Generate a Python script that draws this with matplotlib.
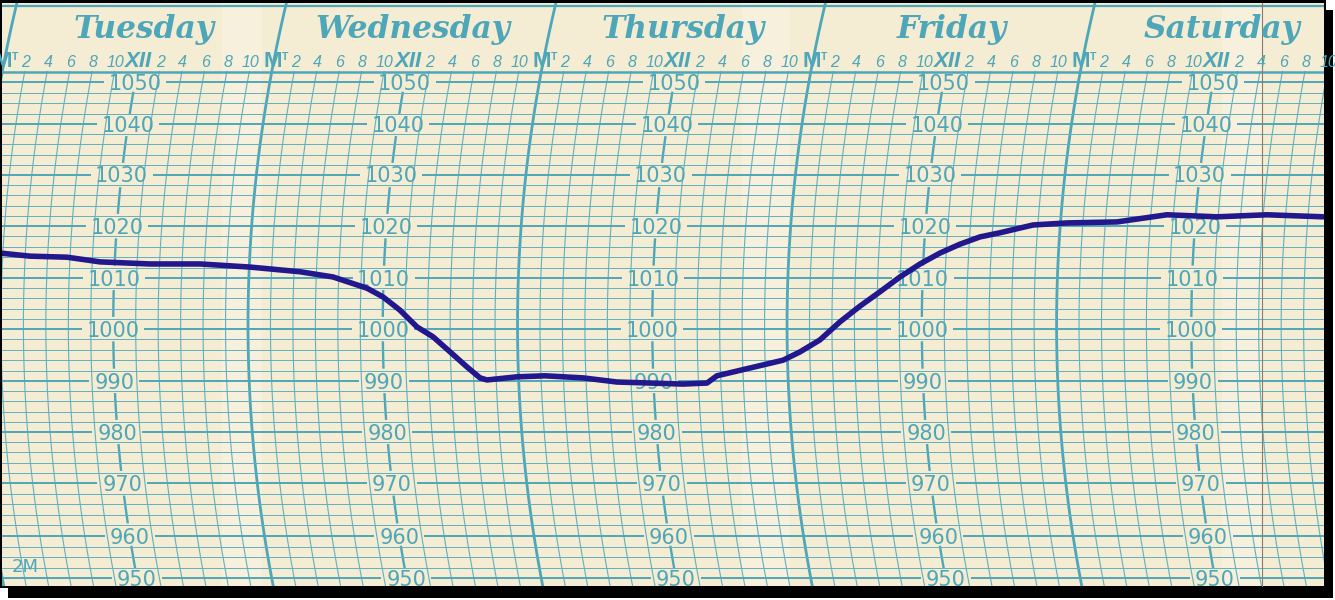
import numpy as np
import matplotlib.pyplot as plt
from matplotlib.patches import Rectangle

# pen trace: hours after Tuesday midnight, pressure in mb
trace_hours = [1.74, 4.43, 7.73, 10.69, 15.15, 19.60, 24.07, 28.54, 31.49, 34.55,
               35.99, 37.52, 39.05, 40.47, 41.97, 43.44, 44.57, 45.18, 47.86, 50.36,
               53.74, 56.75, 59.69, 62.62, 64.76, 65.67, 68.64, 71.60, 73.13, 74.92,
               76.71, 78.49, 80.24, 81.98, 83.72, 85.45, 87.18, 88.92, 90.68, 93.57,
               96.59, 101.03, 105.43, 109.90, 114.34, 119.34]
trace_mb = [1014.8, 1014.2, 1014.0, 1013.1, 1012.7, 1012.7, 1012.1, 1011.2, 1010.2, 1008.0,
            1006.3, 1003.7, 1000.4, 998.5, 995.6, 992.7, 990.6, 990.2, 990.8, 991.0,
            990.6, 989.8, 989.6, 989.4, 989.6, 991.0, 992.5, 994.0, 995.6, 997.9,
            1001.4, 1004.5, 1007.3, 1010.2, 1012.7, 1014.8, 1016.5, 1017.9, 1018.7, 1020.2,
            1020.6, 1020.8, 1022.2, 1021.8, 1022.2, 1021.8]

days = ["Tuesday", "Wednesday", "Thursday", "Friday", "Saturday"]
pressure_levels = list(range(950, 1051, 10))

PAPER = "#f4ecd3"
GRID = "#4ea6b9"
MINOR = "#62b0c0"
INK = "#22178c"

W, H = 1335, 600
# printed scale of the chart paper (pixel row of each pressure line)
scale_mb = [930, 950, 960, 970, 980, 990, 1000, 1010, 1020, 1030, 1040, 1050, 1080]
scale_px = [662, 578, 536, 483, 432, 381, 329, 278, 226, 175, 124, 82, -41]
LINE_STEP = 10.3     # px between printed pressure lines
PX_PER_H = 11.23     # 2-hour lines ~22.5 px apart
X_MT0 = -21.5        # Tuesday midnight line at the arc vertex
ARC_K = 3.7e-4       # curvature of the time arcs
ARC_Y0 = 325


def ypx(p):
    return np.interp(p, scale_mb, scale_px)


def mb_at(y):
    return np.interp(y, scale_px[::-1], scale_mb[::-1])


def arc(p):
    return ARC_K * (ypx(p) - ARC_Y0) ** 2 / PX_PER_H


fig = plt.figure(figsize=(W / 100, H / 100), dpi=100, facecolor="white")
ax = fig.add_axes([0, 0, 1, 1])
ax.set_yscale("function", functions=(lambda p: -ypx(p), lambda u: mb_at(-u)))
ax.set_xlim(-X_MT0 / PX_PER_H, (W - X_MT0) / PX_PER_H)
ax.set_ylim(mb_at(H), mb_at(0))
ax.axis("off")


def box(x0, y0, x1, y1, **kw):
    return Rectangle((x0 / W, 1 - y1 / H), (x1 - x0) / W, (y1 - y0) / H,
                     transform=ax.transAxes, **kw)


# shadow, outline, paper
ax.add_patch(box(8, 10, 1333, 598, fc="black", ec="none", zorder=0))
ax.add_patch(box(0, 0, 1326, 588, fc="black", ec="none", zorder=0.5))
paper = box(2, 3, 1324, 586, fc=PAPER, ec="none", zorder=1)
ax.add_patch(paper)

for x0, x1 in [(222, 262), (742, 790), (1222, 1262)]:
    b = box(x0, 3, x1, 586, fc="white", ec="none", alpha=0.22, zorder=1.2)
    ax.add_patch(b)
    b.set_clip_path(paper)

p_bot, p_hdr, p_top = mb_at(592), mb_at(71.5), mb_at(3)

# time arcs every two hours
for h in range(0, 122, 2):
    if h % 24 == 12:
        continue
    mt = h % 24 == 0
    pp = np.linspace(p_bot, p_top if mt else p_hdr, 120)
    ln, = ax.plot(h + arc(pp), pp, color=GRID if mt else MINOR, lw=2.0 if mt else 0.8,
                  zorder=2)
    ln.set_clip_path(paper)

# noon arcs as short bars between the pressure figures
for d in range(len(days)):
    noon = 24 * d + 12
    for p in pressure_levels[:-1]:
        pp = np.linspace(p + 2.6, p + 7.4, 12)
        ax.plot(noon + arc(pp), pp, color=GRID, lw=1.7, zorder=2)

# minor pressure lines, evenly spaced inside each 10 mb band
minor = []
for p in pressure_levels[:-1]:
    n = int(round((ypx(p) - ypx(p + 10)) / LINE_STEP))
    minor += list(p + 10 * np.arange(1, n) / n)
for p in minor:
    ln = ax.axhline(p, color=MINOR, lw=0.7, zorder=2)
    ln.set_clip_path(paper)

# major lines, broken round the figures
x_lo, x_hi = ax.get_xlim()
for p in pressure_levels:
    half = (31 if p >= 1000 else 25) / PX_PER_H
    centres = [24 * d + 12 + arc(p) for d in range(len(days))]
    starts = [x_lo] + [c + half for c in centres]
    ends = [c - half for c in centres] + [x_hi]
    lc = ax.hlines([p] * len(starts), starts, ends, color=GRID, lw=1.4, zorder=2)
    lc.set_clip_path(paper)
    for c in centres:
        t = ax.annotate(str(p), xy=(c, p), xytext=(0, -5.4), textcoords="offset points",
                        ha="center", va="baseline", fontsize=15, color=GRID,
                        family="DejaVu Sans", zorder=3)
        t.set_clip_path(paper)

# header rules
for p, lw in [(p_hdr, 1.8), (mb_at(6.5), 1.6)]:
    ln = ax.axhline(p, color=GRID, lw=lw, zorder=2)
    ln.set_clip_path(paper)

# day names
p_day = mb_at(38)
for d, name in enumerate(days):
    x = 24 * d + 12 + arc(p_day)
    ax.text(x, p_day, name, ha="center", va="baseline", fontsize=22.5, color=GRID,
            family="DejaVu Serif", weight="bold", style="italic", zorder=3)

# hour figures
p_row = mb_at(67)
for h in range(0, 121, 2):
    hh = h % 24
    x = h + arc(p_row)
    if hh == 0:
        t = ax.text(x, p_row, "M", ha="center", va="baseline", fontsize=16, color=GRID,
                    family="Liberation Sans", weight="bold", zorder=3)
        t2 = ax.annotate("T", xy=(x, p_row), xytext=(6.5, 5), textcoords="offset points",
                         ha="left", va="baseline", fontsize=7.5, color=GRID,
                         family="Liberation Sans", weight="bold", zorder=3)
        t2.set_clip_path(paper)
    elif hh == 12:
        t = ax.text(x, p_row, "XII", ha="center", va="baseline", fontsize=16, color=GRID,
                    family="Liberation Sans", weight="bold", style="italic", zorder=3)
    else:
        t = ax.text(x, p_row, str(hh % 12), ha="center", va="baseline", fontsize=11.5,
                    color=GRID, family="Liberation Sans", style="italic", zorder=3)
    t.set_clip_path(paper)

ax.text(25 / W, 1 - 567 / H, "2M", transform=ax.transAxes, ha="center", va="center",
        fontsize=13, color=GRID, family="DejaVu Sans", zorder=3)

# paper edge seam
ax.plot([1262 / W, 1262 / W], [1 - 3 / H, 1 - 586 / H], transform=ax.transAxes,
        color="#8c7c68", lw=0.8, zorder=2.5)

# the pen trace
pen = np.array(trace_mb)
ln, = ax.plot(np.array(trace_hours) + arc(pen), pen, color=INK, lw=4.0,
              solid_capstyle="round", solid_joinstyle="round", zorder=4)
ln.set_clip_path(paper)

fig.savefig("out.png", dpi=100, facecolor="white")
